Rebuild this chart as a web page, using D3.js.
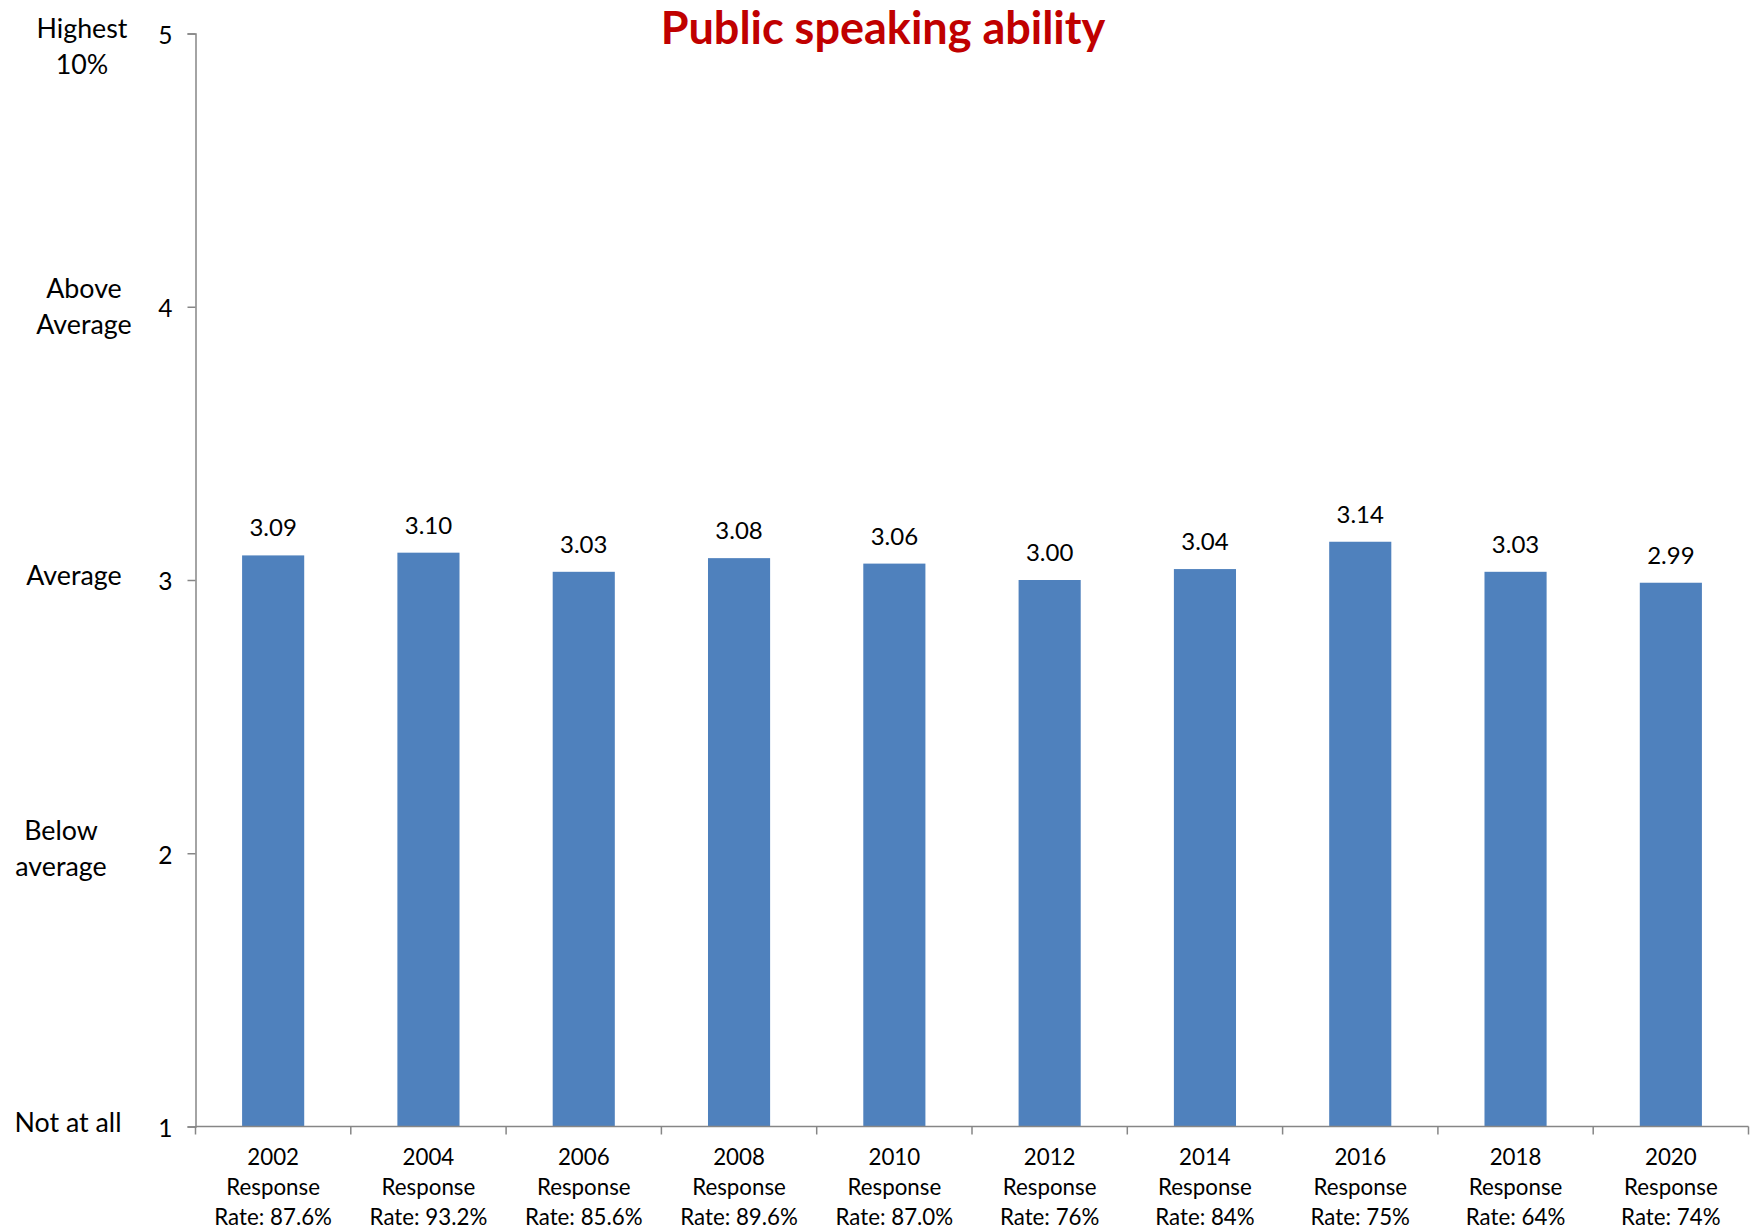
<!DOCTYPE html>
<html>
<head>
<meta charset="utf-8">
<script src="https://cdn.jsdelivr.net/npm/d3@7"></script>
<style>
html,body{margin:0;padding:0;background:#fff;}
svg{display:block;}
text{font-family:Lato,"Open Sans",sans-serif;fill:#000;}
</style>
</head>
<body>
<script>
const years = ["2002","2004","2006","2008","2010","2012","2014","2016","2018","2020"];
const rates = ["87.6%","93.2%","85.6%","89.6%","87.0%","76%","84%","75%","64%","74%"];
const values = [3.09,3.10,3.03,3.08,3.06,3.00,3.04,3.14,3.03,2.99];
const yTicks = [1,2,3,4,5];
const levelLabels = [
  {v:5, lines:["Highest","10%"]},
  {v:4, lines:["Above","Average"]},
  {v:3, lines:["Average"]},
  {v:2, lines:["Below","average"]},
  {v:1, lines:["Not at all"]}
];
const title = "Public speaking ability";

const W = 1752, H = 1229;
const m = {left:195.5, right:3.5, top:33.5, bottom:102.5};
const svg = d3.select("body").append("svg").attr("width",W).attr("height",H);

const x = d3.scaleBand().domain(years).range([m.left, W-m.right]).paddingInner(0.6).paddingOuter(0.3);
const y = d3.scaleLinear().domain([1,5]).range([H-m.bottom, m.top]);

const axisColor = "#868686";

// bars
svg.append("g").selectAll("rect").data(values).join("rect")
  .attr("x",(d,i)=>x(years[i]))
  .attr("y",d=>y(d))
  .attr("width",x.bandwidth())
  .attr("height",d=>y(1)-y(d))
  .attr("fill","#4F81BD");

// data labels
svg.append("g").selectAll("text").data(values).join("text")
  .attr("x",(d,i)=>x(years[i])+x.bandwidth()/2)
  .attr("y",d=>y(d)-19)
  .attr("text-anchor","middle")
  .attr("font-size",24)
  .text(d=>d.toFixed(2));

// y axis
const yAxis = svg.append("g").attr("transform",`translate(${m.left},0)`)
  .call(d3.axisLeft(y).tickValues(yTicks).tickFormat(d3.format("d")).tickSize(8).tickPadding(15));
yAxis.select(".domain").attr("stroke",axisColor).attr("stroke-width",1.5);
yAxis.selectAll(".tick line").attr("stroke",axisColor).attr("stroke-width",1.5);
yAxis.selectAll(".tick text").attr("font-size",24.5).attr("font-family","Lato,sans-serif").attr("fill","#000").attr("dy","0.4em");

// x axis: line + boundary ticks
const xg = svg.append("g");
const x0 = m.left, x1 = W-m.right, yb = y(1);
xg.append("line").attr("x1",x0).attr("x2",x1).attr("y1",yb).attr("y2",yb)
  .attr("stroke",axisColor).attr("stroke-width",1.5);
const bounds = d3.range(years.length+1).map(i=>x0 + (x1-x0)*i/years.length);
xg.selectAll("line.t").data(bounds).join("line").attr("class","t")
  .attr("x1",d=>d).attr("x2",d=>d).attr("y1",yb).attr("y2",yb+8)
  .attr("stroke",axisColor).attr("stroke-width",1.5);

// x labels
const xl = svg.append("g").selectAll("text").data(years).join("text")
  .attr("x",d=>x(d)+x.bandwidth()/2)
  .attr("y",yb+38)
  .attr("text-anchor","middle")
  .attr("font-size",22.3);
xl.each(function(d,i){
  const t = d3.select(this);
  const lines = [d,"Response","Rate: "+rates[i]];
  lines.forEach((s,k)=>t.append("tspan").attr("x",x(d)+x.bandwidth()/2).attr("dy",k===0?0:30).text(s));
});

// level labels
const ll = svg.append("g").selectAll("text").data(levelLabels).join("text")
  .attr("text-anchor","middle")
  .attr("font-size",26.8);
ll.each(function(d){
  const t = d3.select(this);
  const cx = d.v===5?82:d.v===4?84:d.v===3?74:d.v===2?61:68;
  const n = d.lines.length;
  const off = d.v===5 ? 17.5 : d.v===4 ? 4.5 : 0;
  const cy = y(d.v) + off - (n-1)*18 + 5;
  d.lines.forEach((s,k)=>t.append("tspan").attr("x",cx).attr("y",cy+k*36).text(s));
});

// title
svg.append("text").attr("x",883).attr("y",y(5)+10)
  .attr("text-anchor","middle").attr("font-size",45).attr("font-weight","bold")
  .style("fill","#C00000").text(title);
</script>
</body>
</html>
